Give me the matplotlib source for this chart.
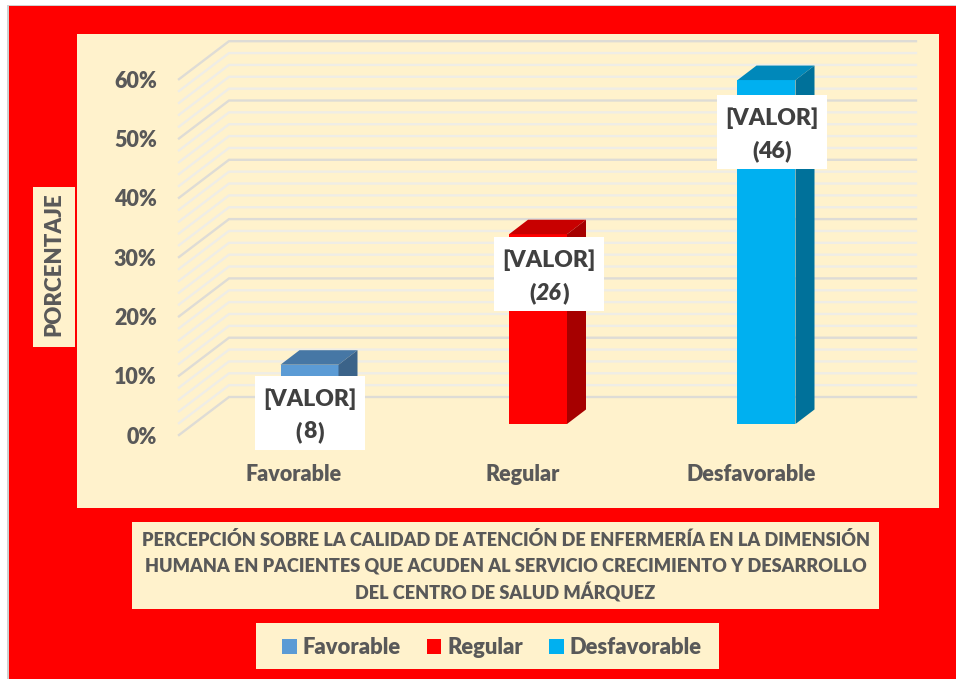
import matplotlib
matplotlib.use("Agg")
import matplotlib.pyplot as plt
from matplotlib.patches import Patch, Rectangle

plt.rcParams['font.family'] = ['Lato', 'DejaVu Sans']

# Data
categorias = ['Favorable', 'Regular', 'Desfavorable']
porcentajes = [10, 32, 58]
conteos = ['8', '26', '46']
estilo_conteo = ['normal', 'italic', 'normal']
ticks_y = [0, 10, 20, 30, 40, 50, 60]
ticks_y_labels = ['0%', '10%', '20%', '30%', '40%', '50%', '60%']
rejilla_menor = [v for v in range(0, 60, 2) if v % 10 != 0]
colores_frente = ['#5B9BD5', '#FF0000', '#00B0F0']
colores_techo = ['#4677A5', '#C80000', '#0088BA']
colores_lado = ['#3B6389', '#A60000', '#00719A']

titulo = ['PERCEPCIÓN SOBRE LA CALIDAD DE ATENCIÓN DE ENFERMERÍA EN LA DIMENSIÓN',
          'HUMANA EN PACIENTES QUE ACUDEN AL SERVICIO CRECIMIENTO Y DESARROLLO',
          'DEL CENTRO DE SALUD MÁRQUEZ']

W, H = 956, 679
GRIS = '#595959'
CREMA = '#FFF2CC'

fig = plt.figure(figsize=(W / 100, H / 100), dpi=100, facecolor='white')


def panel(x0, y0, x1, y1, color):
    # rectangle given in pixels from the top left corner
    fig.add_artist(Rectangle((x0 / W, 1 - y1 / H), (x1 - x0) / W, (y1 - y0) / H,
                             transform=fig.transFigure, facecolor=color, linewidth=0, zorder=-5))


panel(7, 5, 956, 679, '#D0D0D0')
panel(9, 6, 956, 679, '#FF0000')
panel(77, 34, 939, 508, CREMA)
panel(33, 187, 75, 347, CREMA)
panel(132, 522, 879, 609, CREMA)
panel(256, 623, 719, 669, CREMA)

# axes: x in categories, y in percent. 3d look is done with offsets
left, right, bottom, top = 179, 916, 435, 41
ax = fig.add_axes([left / W, 1 - bottom / H, (right - left) / W, (bottom - top) / H])
ax.patch.set_alpha(0)
paso_x = 228.5
paso_y = 5.93
ax.set_xlim((left - 294) / paso_x, (right - 294) / paso_x)
ax.set_ylim(0, (bottom - top) / paso_y)
for s in ax.spines.values():
    s.set_visible(False)

pared_x = ax.get_xlim()[0] + 50 / paso_x
pared_y = 38 / paso_y

# walls
for v in rejilla_menor:
    ax.plot([ax.get_xlim()[0], pared_x, ax.get_xlim()[1]], [v, v + pared_y, v + pared_y],
            color='#EFEDE6', lw=1.7, zorder=1, solid_joinstyle='miter', clip_on=False)
for v in ticks_y:
    ax.plot([ax.get_xlim()[0], pared_x, ax.get_xlim()[1]], [v, v + pared_y, v + pared_y],
            color='#DEDCD6', lw=1.7, zorder=1.1, solid_joinstyle='miter', clip_on=False)

# bars
ancho = 58 / paso_x
centro_dx = 15.5 / paso_x
base = 11 / paso_y
fondo_x = 19 / paso_x
fondo_y = 14.5 / paso_y
for i, v in enumerate(porcentajes):
    x0 = i + centro_dx - ancho / 2
    x1 = x0 + ancho
    ytop = base + v
    ax.bar(i + centro_dx, v, width=ancho, bottom=base, color=colores_frente[i], zorder=3)
    ax.fill([x0, x1, x1 + fondo_x, x0 + fondo_x], [ytop, ytop, ytop + fondo_y, ytop + fondo_y],
            color=colores_techo[i], lw=0, zorder=3)
    ax.fill([x1, x1 + fondo_x, x1 + fondo_x, x1], [base, base + fondo_y, ytop + fondo_y, ytop],
            color=colores_lado[i], lw=0, zorder=3)

# value labels, white box
etiqueta_x = [0 / paso_x, 11 / paso_x, 5 / paso_x]
etiqueta_y = [(435 - 413) / paso_y, (435 - 274) / paso_y, (435 - 132) / paso_y]
for i, t in enumerate(conteos):
    cx = i + centro_dx + etiqueta_x[i]
    cy = etiqueta_y[i]
    ax.add_patch(Rectangle((cx - 55 / paso_x, cy - 37 / paso_y), 110 / paso_x, 74 / paso_y,
                           facecolor='white', linewidth=0, zorder=4, clip_on=False))
    ax.text(cx, cy + 14 / paso_y, '[VALOR]', ha='center', va='center',
            fontsize=16.6, fontweight='heavy', color='#404040', zorder=5)
    cy2 = cy - 19 / paso_y
    ax.text(cx, cy2, t, ha='center', va='center', fontsize=16.6, fontweight='heavy',
            fontstyle=estilo_conteo[i], color='#404040', zorder=5)
    abre = (len(t) * 5.3 + 2.5) / paso_x
    ax.text(cx - abre, cy2, '(', ha='right', va='center', fontsize=16.6, fontweight='heavy',
            color='#404040', zorder=5)
    ax.text(cx + abre, cy2, ')', ha='left', va='center', fontsize=16.6, fontweight='heavy',
            color='#404040', zorder=5)

ax.set_yticks(ticks_y)
ax.set_yticklabels(ticks_y_labels, fontsize=15.5, fontweight='heavy', color=GRIS)
ax.set_xticks(range(len(categorias)))
ax.set_xticklabels(categorias, fontsize=15.5, fontweight='heavy', color=GRIS)
ax.tick_params(axis='y', length=0, pad=16)
ax.tick_params(axis='x', length=0, pad=20.7)

fig.text(54 / W, 1 - 264.5 / H, 'PORCENTAJE', rotation=90, ha='center', va='center',
         fontsize=16, fontweight='heavy', color=GRIS)
for linea, y_px in zip(titulo, [540, 566.5, 593]):
    fig.text(505.5 / W, 1 - y_px / H, linea, ha='center', va='center', fontsize=13.07,
             fontweight='heavy', color=GRIS)

handles = [Patch(facecolor=c, linewidth=0, label=n) for c, n in zip(colores_frente, categorias)]
fig.legend(handles=handles, loc='center', bbox_to_anchor=(492 / W, 1 - 648 / H), ncol=3, frameon=False,
           prop={'size': 15.8, 'weight': 'heavy'}, labelcolor=GRIS, handlelength=0.65, handleheight=0.65,
           handletextpad=0.27, columnspacing=1.2)

fig.savefig('out.png', dpi=100)
